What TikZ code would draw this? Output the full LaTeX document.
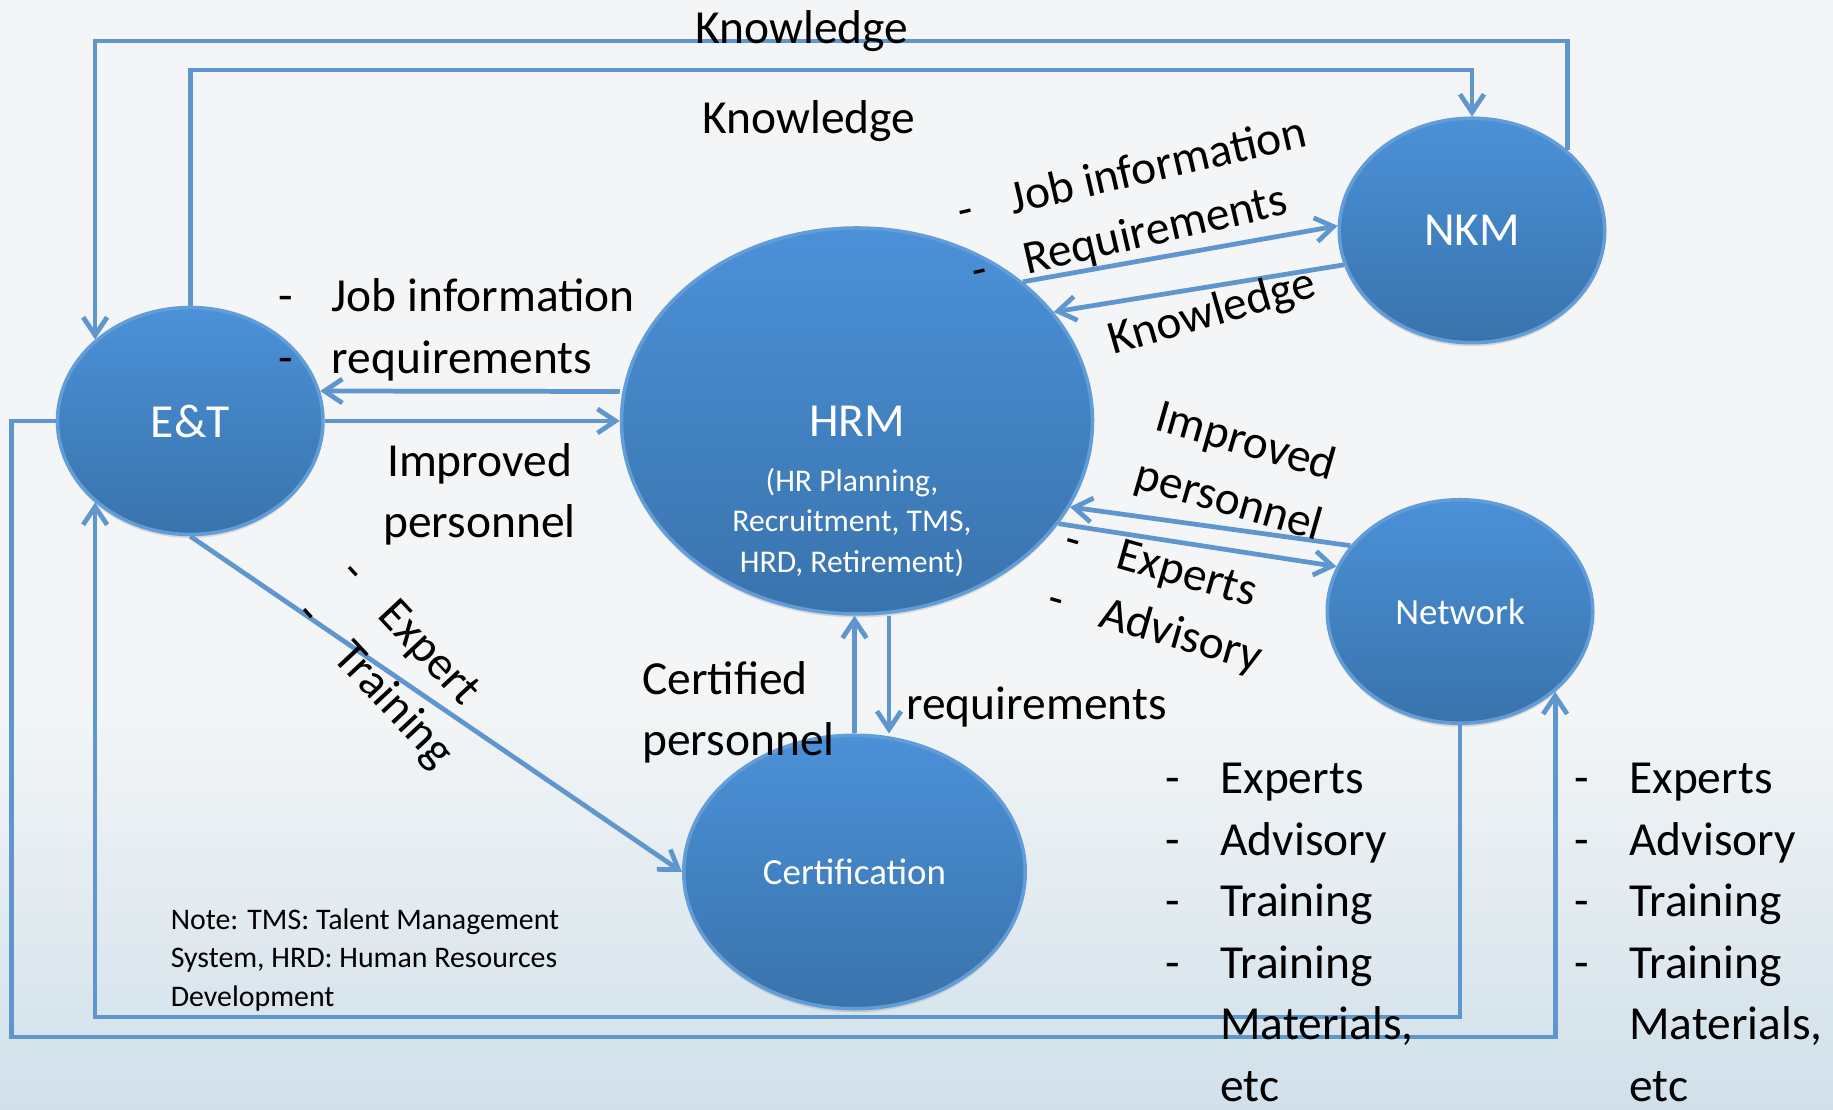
\documentclass[tikz,border=0pt]{standalone}
\usepackage{fontspec}
\setmainfont{Carlito}
\usetikzlibrary{arrows.meta,positioning,shapes.geometric,shadows}
\definecolor{bubbletop}{RGB}{75,145,216}
\definecolor{bubblebot}{RGB}{57,115,172}
\definecolor{bubbleedge}{RGB}{98,157,215}
\definecolor{flowblue}{RGB}{96,150,206}
\definecolor{bgtop}{RGB}{243,245,246}
\definecolor{bgbot}{RGB}{208,224,234}

\begin{document}
\begin{tikzpicture}[
  >={Straight Barb[length=3.6mm,width=4.8mm]},
  bubble/.style={ellipse, draw=bubbleedge, line width=2pt,
    top color=bubbletop, bottom color=bubblebot, text=white,
    inner sep=0pt, align=center,
    drop shadow={opacity=.25, shadow xshift=0pt, shadow yshift=-2pt}},
  flow/.style={->, draw=flowblue, line width=2.7pt},
  big/.style={font=\fontsize{27}{35}\selectfont, inner sep=0pt},
  small/.style={font=\fontsize{18}{23}\selectfont, inner sep=0pt},
  note/.style={font=\fontsize{17}{22}\selectfont, align=left, inner sep=0pt}
]
% page and background
\useasboundingbox (0,0) rectangle (36.66,22.2);
\fill[bgtop] (0,0) rectangle (36.66,22.2);
\shade[top color=bgtop, bottom color=bgbot] (0,0) rectangle (36.66,8);

% the five units
\node[bubble, big, minimum width=9.42cm, minimum height=7.72cm]
  (hrm) at (17.14,13.78) {HRM};
\node[small, text=white, align=center] (hrmtasks) at (17.04,11.75)
  {(HR Planning,\\Recruitment, TMS,\\HRD, Retirement)};
\node[bubble, big, minimum width=5.31cm, minimum height=4.54cm,
  left=5.9cm of hrm] (et) {E\&T};
\node[bubble, big, minimum width=5.31cm, minimum height=4.49cm]
  (nkm) at (29.44,17.59) {NKM};
\node[bubble, font=\fontsize{21}{26}\selectfont, minimum width=5.31cm,
  minimum height=4.47cm] (network) at (29.20,9.97) {Network};
\node[bubble, font=\fontsize{21}{26}\selectfont, minimum width=6.83cm,
  minimum height=5.47cm] (cert) at (17.09,4.76) {Certification};

% loops round the outside
\coordinate (topA) at (0,21.38);
\coordinate (topB) at (0,20.80);
\coordinate (botA) at (0,1.86);
\coordinate (botB) at (0,1.46);
\coordinate (leftB) at (0.23,0);
\draw[flow] (nkm.north east) -- (nkm.north east |- topA)
  -- (et.north west |- topA) -- (et.north west);
\draw[flow] (et.north) -- (et.north |- topB)
  -- (nkm.north |- topB) -- (nkm.north);
\draw[flow] (network.south) -- (network.south |- botA)
  -- (et.south west |- botA) -- (et.south west);
\draw[flow] (et.west) -- (leftB |- et.west) -- (leftB |- botB)
  -- (network.south east |- botB) -- (network.south east);

% links between the units
\draw[flow] ([yshift=5.9mm]hrm.west) -- (et.13);
\draw[flow] (et) -- (hrm);
\draw[flow] (hrm.40) -- (nkm.178);
\draw[flow] (nkm.195) -- (hrm.29);
\draw[flow] (network.149) -- (hrm.338);
\draw[flow] (hrm.333) -- (network.160);
\draw[flow] (et.south) -- (cert.west);
\draw[flow] (cert.north) -- (cert.north |- hrm.south);
\draw[flow] ([xshift=6.4mm]hrm.south) -- ([xshift=6.4mm]hrm.south |- cert.north);

% labels
\node[big, anchor=base] (kntop) at (16.04,21.33) {Knowledge};
\node[big] (knmid) at (16.18,19.77) {Knowledge};
\node[big, anchor=west] (etjob) at (5.56,15.6)
  {\begin{tabular}{@{}p{1.07cm}@{}l@{}}
   - & Job information\\ - & requirements
   \end{tabular}};
\node[big, align=center] (etimp) at (9.59,12.31) {Improved\\personnel};
\node[big, anchor=west, rotate=13] (nkmjob) at (19.3,17.31)
  {\begin{tabular}{@{}p{1.07cm}@{}l@{}}
   - & Job information\\ - & Requirements
   \end{tabular}};
\node[big, rotate=16] (nkmkn) at (24.25,15.93) {Knowledge};
\node[big, align=center, rotate=-16] (netimp) at (24.74,12.75)
  {Improved\\personnel};
\node[big, anchor=west, rotate=-16] (netexp) at (21.15,10.8)
  {\begin{tabular}{@{}p{1.07cm}@{}l@{}}
   - & Experts\\ - & Advisory
   \end{tabular}};
\node[big, anchor=west, rotate=-47] (certexp) at (6.5,10.45)
  {\begin{tabular}{@{}p{1.12cm}@{}l@{}}
   - & Expert\\ - & Training
   \end{tabular}};
\node[big, anchor=west, align=left] (certified) at (12.84,7.95)
  {Certified\\personnel};
\node[big, anchor=west] (certreq) at (18.12,8.05) {requirements};
\node[big, anchor=west] (netlist) at (23.3,3.495)
  {\begin{tabular}{@{}p{1.1cm}@{}l@{}}
   - & Experts\\ - & Advisory\\ - & Training\\ - & Training\\
     & Materials,\\ & etc
   \end{tabular}};
\node[big, anchor=west] (etlist) at (31.48,3.495)
  {\begin{tabular}{@{}p{1.1cm}@{}l@{}}
   - & Experts\\ - & Advisory\\ - & Training\\ - & Training\\
     & Materials,\\ & etc
   \end{tabular}};
\node[note, anchor=west] (notes) at (3.41,3.0)
  {Note: TMS: Talent Management\\System, HRD: Human Resources\\Development};
\end{tikzpicture}
\end{document}
